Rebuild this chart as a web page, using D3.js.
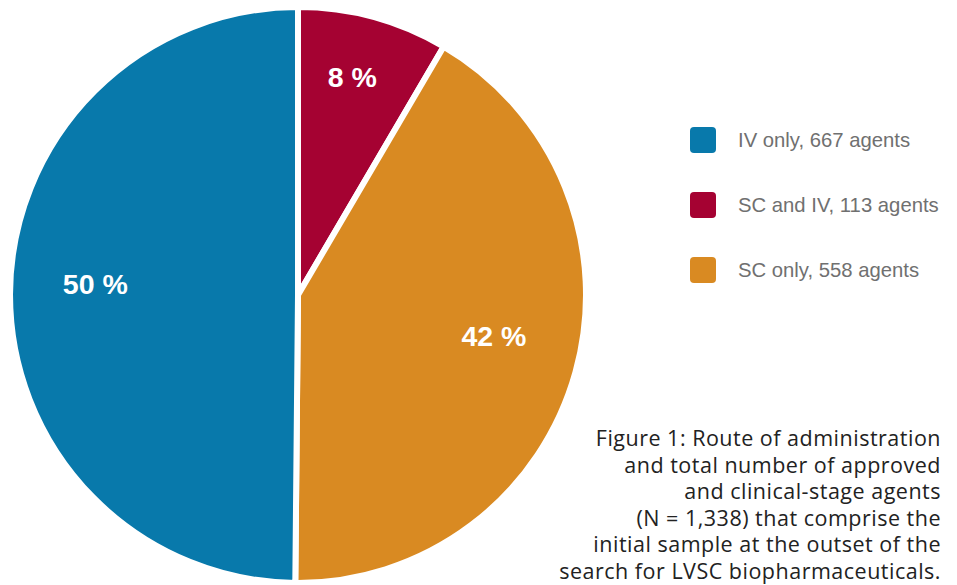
<!DOCTYPE html>
<html>
<head>
<meta charset="utf-8">
<script src="https://cdn.jsdelivr.net/npm/d3@7"></script>
<style>
  html, body { margin: 0; padding: 0; background: #fff; }
  svg { display: block; }
</style>
</head>
<body>
<svg id="chart" width="957" height="585"></svg>
<script>
// Route of administration, counts of agents
const categories = ["SC and IV", "SC only", "IV only"];
const counts = [113, 558, 667];
const percentLabels = ["8 %", "42 %", "50 %"];
const legendOrder = ["IV only", "SC and IV", "SC only"];
const legendLabels = ["IV only, 667 agents", "SC and IV, 113 agents", "SC only, 558 agents"];
const colors = { "SC and IV": "#a50232", "SC only": "#d98a22", "IV only": "#0879ab" };
const captionLines = [
  "Figure 1: Route of administration",
  "and total number of approved",
  "and clinical-stage agents",
  "(N = 1,338) that comprise the",
  "initial sample at the outset of the",
  "search for LVSC biopharmaceuticals."
];

const svg = d3.select("#chart");
const cx = 298, cy = 295, r = 288;

const pie = d3.pie().sort(null).value(d => d.value);
const slices = pie(categories.map((c, i) => ({ name: c, value: counts[i], label: percentLabels[i] })));
const arc = d3.arc().innerRadius(0).outerRadius(r);

const g = svg.append("g").attr("transform", `translate(${cx},${cy})`);
g.selectAll("path.slice")
  .data(slices)
  .join("path")
  .attr("class", "slice")
  .attr("d", arc)
  .attr("fill", d => colors[d.data.name])
  .attr("stroke", "#fff")
  .attr("stroke-width", 6)
  .attr("stroke-linejoin", "miter");

// percentage labels: position within each slice (fraction of its sweep, distance from centre)
const labelPlace = {
  "SC and IV": { f: 0.46, d: 0.78 },
  "SC only":   { f: 0.476, d: 0.695 },
  "IV only":   { f: 0.516, d: 0.705 }
};
g.selectAll("text.pct")
  .data(slices)
  .join("text")
  .attr("class", "pct")
  .attr("transform", d => {
    const p = labelPlace[d.data.name];
    const a = d.startAngle + p.f * (d.endAngle - d.startAngle);
    const lr = p.d * r;
    return `translate(${Math.sin(a) * lr},${-Math.cos(a) * lr})`;
  })
  .attr("text-anchor", "middle")
  .attr("dy", "0.36em")
  .attr("fill", "#fff")
  .attr("font-family", "'Liberation Sans', Arial, sans-serif")
  .attr("font-weight", "bold")
  .attr("font-size", 28.5)
  .text(d => d.data.label);

// legend
const legend = svg.append("g").attr("transform", "translate(690,127)");
const row = legend.selectAll("g.item")
  .data(legendOrder)
  .join("g")
  .attr("class", "item")
  .attr("transform", (d, i) => `translate(0,${i * 65})`);
row.append("rect")
  .attr("width", 26).attr("height", 26)
  .attr("rx", 4).attr("ry", 4)
  .attr("fill", d => colors[d]);
row.append("text")
  .attr("x", 48)
  .attr("y", 13)
  .attr("dy", "0.36em")
  .attr("fill", "#707070")
  .attr("font-family", "'Liberation Sans', Arial, sans-serif")
  .attr("font-size", 20.3)
  .text((d, i) => legendLabels[i]);

// caption, right-aligned
const caption = svg.append("text")
  .attr("text-anchor", "end")
  .attr("fill", "#222")
  .attr("font-family", "'Open Sans', Lato, sans-serif")
  .attr("font-size", 21.5)
  .attr("letter-spacing", 0.5);
caption.selectAll("tspan")
  .data(captionLines)
  .join("tspan")
  .attr("x", 941)
  .attr("y", (d, i) => 446 + i * 26.5)
  .text(d => d);
</script>
</body>
</html>
